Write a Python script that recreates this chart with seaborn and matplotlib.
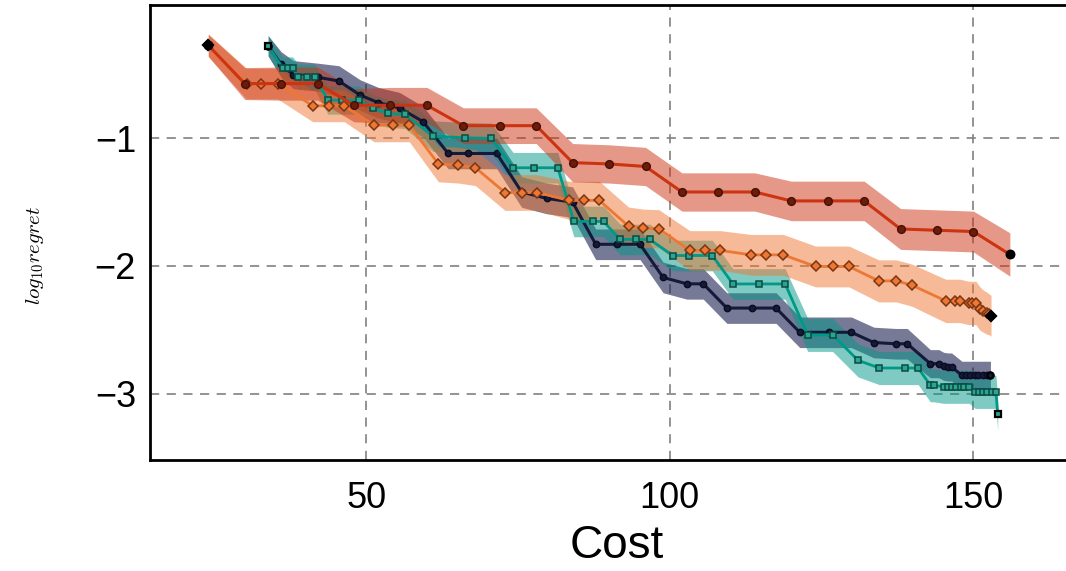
import numpy as np
import pandas as pd
import matplotlib
matplotlib.use("Agg")
import matplotlib.pyplot as plt
import seaborn as sns

# ---------------- data ----------------
red_x = [24, 30, 36, 42, 48, 54, 60, 66, 72, 78, 84, 90, 96, 102, 108, 114, 120, 126, 132, 138, 144, 150, 156]
red_y = [-0.27, -0.57, -0.57, -0.57, -0.74, -0.74, -0.74, -0.90, -0.90, -0.90, -1.19, -1.20, -1.22,
         -1.42, -1.42, -1.42, -1.49, -1.49, -1.49, -1.71, -1.72, -1.73, -1.91]
red_sd = [0.085, 0.125, 0.13, 0.13, 0.13, 0.14, 0.14, 0.14, 0.14, 0.14, 0.15, 0.15, 0.15, 0.15,
          0.15, 0.15, 0.155, 0.155, 0.155, 0.16, 0.16, 0.16, 0.17]

orange_x = [24, 30.3, 32.7, 35.4, 41.2, 43.9, 46.4, 51.3, 54.35, 57.1, 61.9, 65.2, 68.0, 72.85, 75.65,
            78.1, 83.45, 85.9, 88.4, 93.2, 95.6, 98.2, 103.3, 105.8, 108.3, 113.4, 115.9, 118.7, 124.0,
            126.8, 129.5, 134.4, 137.3, 139.85, 145.45, 146.9, 147.8, 149.2, 149.8, 150.4, 151.1,
            151.65, 152.2, 152.6, 152.9]
orange_y = [-0.27, -0.57, -0.57, -0.57, -0.744, -0.744, -0.744, -0.896, -0.896, -0.896, -1.20, -1.21,
            -1.23, -1.424, -1.424, -1.424, -1.486, -1.486, -1.486, -1.688, -1.704, -1.709, -1.878,
            -1.878, -1.878, -1.913, -1.913, -1.913, -2.004, -2.004, -2.004, -2.117, -2.117, -2.15,
            -2.274, -2.274, -2.274, -2.29, -2.29, -2.29, -2.335, -2.355, -2.37, -2.38, -2.39]
orange_sd = [0.09, 0.12, 0.12, 0.12, 0.125, 0.125, 0.125, 0.13, 0.13, 0.13, 0.14, 0.14, 0.14, 0.14,
             0.14, 0.14, 0.15, 0.15, 0.15, 0.15, 0.15, 0.15, 0.155, 0.155, 0.155, 0.16, 0.16, 0.16,
             0.16, 0.16, 0.16, 0.165, 0.165, 0.165, 0.17, 0.17, 0.17, 0.17, 0.17, 0.17, 0.17, 0.165,
             0.165, 0.16, 0.16]

teal_x = [33.86, 36.3, 37.2, 37.9, 38.8, 40.2, 41.5, 43.7, 45.95, 48.8, 51.05, 53.6, 56.4, 61.0, 66.3,
          70.6, 74.2, 77.6, 81.55, 84.2, 87.3, 89.1, 91.8, 94.5, 96.7, 100.5, 103.2, 107.0, 110.4,
          114.7, 119.0, 122.7, 126.8, 131.0, 134.5, 138.8, 140.9, 142.9, 143.5, 145.1, 145.8, 146.4,
          147.15, 147.9, 148.5, 149.3, 150.3, 150.9, 151.65, 152.3, 153.0, 153.7, 154.0]
teal_y = [-0.274, -0.451, -0.451, -0.451, -0.517, -0.517, -0.517, -0.70, -0.70, -0.70, -0.765, -0.804,
          -0.812, -0.982, -0.995, -1.0, -1.23, -1.23, -1.23, -1.651, -1.651, -1.651, -1.792, -1.792,
          -1.792, -1.918, -1.918, -1.918, -2.141, -2.141, -2.141, -2.54, -2.54, -2.74, -2.80, -2.80,
          -2.80, -2.935, -2.935, -2.947, -2.947, -2.947, -2.947, -2.947, -2.947, -2.947, -2.987,
          -2.987, -2.987, -2.987, -2.987, -2.987, -3.157]
teal_sd = [0.08, 0.09, 0.09, 0.09, 0.1, 0.1, 0.1, 0.11, 0.11, 0.11, 0.11, 0.11, 0.11, 0.12, 0.12, 0.12,
           0.12, 0.12, 0.12, 0.12, 0.12, 0.12, 0.12, 0.12, 0.12, 0.12, 0.12, 0.12, 0.12, 0.12, 0.12,
           0.13, 0.13, 0.13, 0.13, 0.13, 0.13, 0.13, 0.13, 0.13, 0.13, 0.13, 0.13, 0.13, 0.13, 0.13,
           0.13, 0.13, 0.13, 0.13, 0.13, 0.13, 0.13]

navy_x = [33.86, 36.0, 38.0, 42.0, 45.5, 49.0, 52.0, 55.5, 59.4, 63.5, 66.7, 71.5, 75.6, 79.7, 84.0,
          87.8, 91.3, 95.1, 98.9, 102.8, 105.5, 109.4, 113.5, 117.5, 121.4, 126.2, 129.9, 133.6,
          137.2, 139.1, 142.9, 144.3, 145.1, 145.8, 146.4, 148.1, 148.8, 149.4, 150.2, 150.8, 151.5,
          152.2, 152.8]
navy_y = [-0.274, -0.42, -0.50, -0.52, -0.55, -0.66, -0.72, -0.76, -0.87, -1.118, -1.118, -1.118,
          -1.42, -1.47, -1.50, -1.83, -1.83, -1.83, -2.09, -2.14, -2.14, -2.33, -2.33, -2.33, -2.52,
          -2.52, -2.52, -2.60, -2.61, -2.61, -2.766, -2.766, -2.787, -2.792, -2.792, -2.857, -2.857,
          -2.857, -2.857, -2.857, -2.857, -2.857, -2.857]
navy_sd = [0.08, 0.1, 0.11, 0.11, 0.12, 0.12, 0.12, 0.12, 0.12, 0.12, 0.12, 0.12, 0.12, 0.12, 0.12,
           0.12, 0.12, 0.12, 0.12, 0.12, 0.12, 0.12, 0.12, 0.12, 0.12, 0.12, 0.12, 0.12, 0.12, 0.12,
           0.11, 0.11, 0.11, 0.11, 0.11, 0.11, 0.11, 0.11, 0.11, 0.11, 0.11, 0.11, 0.11]

x_ticks = [50, 100, 150]
y_ticks = [-3, -2, -1]
x_label = "Cost"
y_label = r"$log_{10} regret$"

# ---------------- style ----------------
sns.set_style("white")
plt.rcParams["font.family"] = ["Liberation Sans", "DejaVu Sans"]
plt.rcParams["mathtext.fontset"] = "cm"
plt.rcParams["text.color"] = "black"
plt.rcParams["axes.labelcolor"] = "black"

fig = plt.figure(figsize=(10.66, 5.71), dpi=100)
ax = fig.add_axes([0.1407, 0.194, 0.875, 0.797])

# drawing order: navy, teal, orange, red (red on top)
series = [
    dict(x=navy_x, y=navy_y, sd=navy_sd, color="#161a3a", band="#1c2250", alpha=0.6,
         marker="o", ms=4.5, mfc="#161a3a", mec="#0a0c20", lw=2.2, endface="#161a3a"),
    dict(x=teal_x, y=teal_y, sd=teal_sd, color="#009988", band="#009988", alpha=0.5,
         marker="s", ms=4.5, mfc="#2aa593", mec="#0b4a40", lw=2.0, endface="#2aa593"),
    dict(x=orange_x, y=orange_y, sd=orange_sd, color="#EE7733", band="#EE7733", alpha=0.5,
         marker="D", ms=4.8, mfc="#EE7733", mec="#7a3512", lw=2.0, endface="black"),
    dict(x=red_x, y=red_y, sd=red_sd, color="#CC3311", band="#CC3311", alpha=0.5,
         marker="o", ms=5.5, mfc="#6e1b0a", mec="#4a1206", lw=2.2, endface="black"),
]

for s in series:
    xs = np.asarray(s["x"], float)
    ys = np.asarray(s["y"], float)
    sd = np.asarray(s["sd"], float)
    ax.fill_between(xs, ys - sd, ys + sd, color=s["band"], alpha=s["alpha"], linewidth=0)
    df = pd.DataFrame({"Cost": xs, "val": ys})
    sns.lineplot(data=df, x="Cost", y="val", ax=ax, estimator=None, sort=False,
                 color=s["color"], linewidth=s["lw"], marker=s["marker"],
                 markersize=s["ms"], markerfacecolor=s["mfc"],
                 markeredgecolor=s["mec"], markeredgewidth=1.1)
    ends = df.iloc[[0, -1]]
    ax.plot(ends["Cost"], ends["val"], linestyle="none", marker=s["marker"],
            markersize=s["ms"], markerfacecolor=s["endface"], markeredgecolor="black",
            markeredgewidth=1.6)

ax.set_xlim(14.4, 168)
ax.set_ylim(-3.523, 0.045)
ax.set_xticks(x_ticks)
ax.set_yticks(y_ticks)
ax.set_yticklabels([f"\u2212{abs(v)}" for v in y_ticks])

ax.grid(True, linestyle=(0, (5.5, 4.5)), color="#808080", linewidth=1.2)
ax.tick_params(direction="in", length=8, width=0.9, color="#555555",
               labelsize=26, labelcolor="black")
ax.tick_params(axis="x", pad=15)
ax.tick_params(axis="y", pad=10)

for side in ["left", "bottom", "top", "right"]:
    ax.spines[side].set_linewidth(2.0)
    ax.spines[side].set_color("black")

ax.set_xlabel(x_label, fontsize=33, labelpad=6, color="black")
ax.set_ylabel(y_label, fontsize=15, color="black")
ax.yaxis.set_label_coords(-0.112, 0.45)

fig.savefig("out.png", dpi=100)
